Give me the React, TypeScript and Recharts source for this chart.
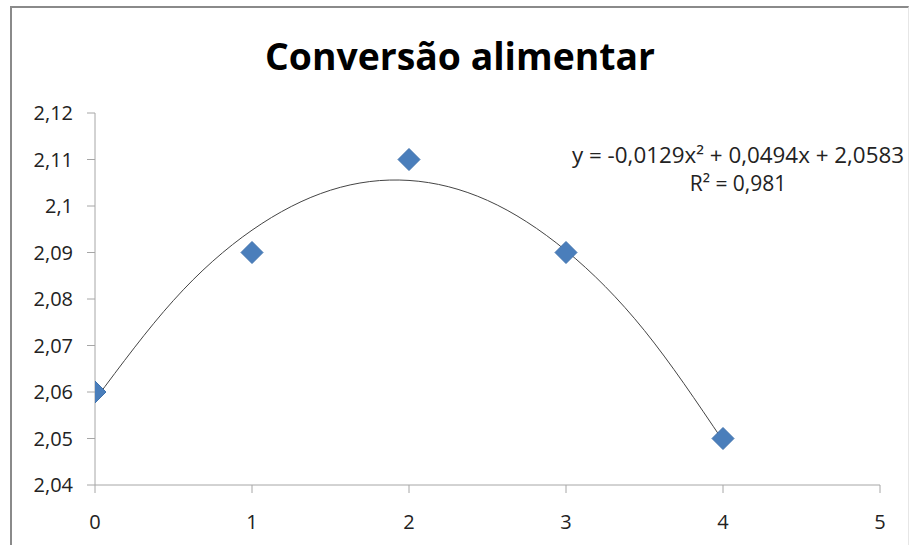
import React from "react";
import {
  ComposedChart,
  Scatter,
  Line,
  XAxis,
  YAxis,
  Customized,
} from "recharts";

const doseX = [0, 1, 2, 3, 4];
const conversao = [2.06, 2.09, 2.11, 2.09, 2.05];

// trendline values (polynomial order 2)
const trendX = [0, 0.5, 1, 1.5, 2, 2.5, 3, 3.5, 4];
const trendY = [2.0583, 2.0797, 2.0948, 2.1034, 2.1055, 2.1012, 2.0904, 2.0732, 2.0495];

const xTicks = [0, 1, 2, 3, 4, 5];
const yTicks = [2.04, 2.05, 2.06, 2.07, 2.08, 2.09, 2.1, 2.11, 2.12];

const titleText = "Conversão alimentar";
const eqLine1 = "y = -0,0129x² + 0,0494x + 2,0583";
const eqLine2 = "R² = 0,981";

const points = doseX.map((x, i) => ({ x, y: conversao[i] }));
const trend = trendX.map((x, i) => ({ x, t: trendY[i] }));

const FONT = "'Open Sans', 'Noto Sans', sans-serif";

const Diamond = (props: any) => {
  const { cx, cy } = props;
  const r = 11;
  return (
    <path
      d={`M${cx},${cy - r} L${cx + r},${cy} L${cx},${cy + r} L${cx - r},${cy} Z`}
      fill="#4a7ebb"
      stroke="#3f72ad"
      strokeWidth={1}
    />
  );
};

const fmt = (v: number) => String(Number(v.toFixed(2))).replace(".", ",");

const Overlay = () => (
  <g fontFamily={FONT}>
    <text x={460} y={70} textAnchor="middle" fontSize={37} fontWeight="bold" fill="#000" textLength={390} lengthAdjust="spacingAndGlyphs">
      {titleText}
    </text>
    <text x={738} y={163} textAnchor="middle" fontSize={21} fill="#222" textLength={332} lengthAdjust="spacingAndGlyphs">
      {eqLine1}
    </text>
    <text x={738} y={191} textAnchor="middle" fontSize={21} fill="#222">
      {eqLine2}
    </text>
  </g>
);

export default function App() {
  return (
    <div style={{ position: "absolute", left: 0, top: 0, width: 911, height: 545, background: "#fff" }}>
      <div
        style={{
          position: "absolute",
          left: 10,
          top: 6,
          width: 896,
          height: 560,
          borderLeft: "2px solid #8a8a8a",
          borderTop: "2px solid #8a8a8a",
          borderRight: "1px solid #e6e6e6",
        }}
      />
      <ComposedChart
        width={911}
        height={545}
        margin={{ top: 113, right: 31, bottom: 10, left: 15 }}
        style={{ position: "absolute", left: 0, top: 0 }}
      >
        <XAxis
          type="number"
          dataKey="x"
          domain={[0, 5]}
          ticks={xTicks}
          interval={0}
          allowDataOverflow
          height={50}
          tickSize={8}
          tickMargin={22}
          stroke="#a6a6a6"
          tick={{ fill: "#222", fontSize: 20, fontFamily: FONT }}
        />
        <YAxis
          type="number"
          domain={[2.04, 2.12]}
          ticks={yTicks}
          interval={0}
          allowDataOverflow
          width={80}
          tickSize={8}
          tickMargin={14}
          stroke="#a6a6a6"
          tickFormatter={fmt}
          tick={{ fill: "#222", fontSize: 20, fontFamily: FONT }}
        />
        <Line
          data={trend}
          dataKey="t"
          type="natural"
          stroke="#444"
          strokeWidth={1}
          dot={false}
          activeDot={false}
          isAnimationActive={false}
        />
        <Scatter
          data={points}
          dataKey="y"
          shape={<Diamond />}
          isAnimationActive={false}
        />
        <Customized component={Overlay} />
      </ComposedChart>
    </div>
  );
}
